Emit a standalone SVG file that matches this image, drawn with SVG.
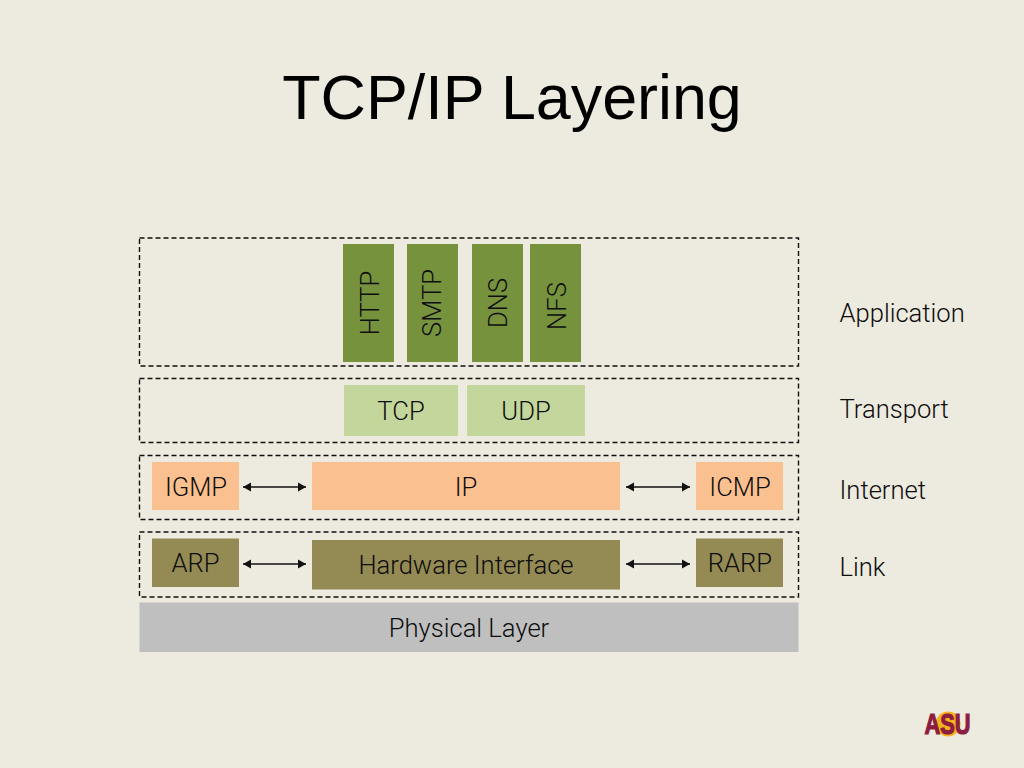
<svg xmlns="http://www.w3.org/2000/svg" width="1024" height="768" viewBox="0 0 1024 768">
<style>
.t{font-family:Roboto,"Liberation Sans",sans-serif;font-weight:300;font-size:25.6px;fill:#0d0d0d;text-anchor:middle}
.l{font-family:Roboto,"Liberation Sans",sans-serif;font-weight:300;font-size:25.6px;fill:#0d0d0d}
.d{fill:none;stroke:#111;stroke-width:1.4;stroke-dasharray:5 3}
.c{fill:none;stroke:#111;stroke-width:1.5;marker-start:url(#a);marker-end:url(#a)}
</style>
<defs>
<marker id="a" markerUnits="userSpaceOnUse" markerWidth="10" markerHeight="10" refX="9" refY="5" orient="auto-start-reverse"><path d="M1 0.500L9 5L1 9.500Z" fill="#111"/></marker>
</defs>
<rect width="1024" height="768" fill="#edeadf"/>
<text id="title" x="512" y="119" font-family="'Liberation Sans',Arial,sans-serif" font-size="62.8" fill="#000" text-anchor="middle">TCP/IP Layering</text>
<g id="layers">
<rect id="layer-application" class="d" x="139.500" y="238" width="659" height="128"/>
<rect id="layer-transport" class="d" x="139.500" y="378.500" width="659" height="64"/>
<rect id="layer-internet" class="d" x="139.500" y="455.500" width="659" height="64"/>
<rect id="layer-link" class="d" x="139.500" y="532" width="659" height="65"/>
</g>
<g id="http"><rect x="343" y="244" width="51" height="118" fill="#76923c"/><text class="t" transform="translate(379 303) rotate(-90)">HTTP</text></g>
<g id="smtp"><rect x="407" y="244" width="51" height="118" fill="#76923c"/><text class="t" transform="translate(441 303) rotate(-90)">SMTP</text></g>
<g id="dns"><rect x="472" y="244" width="51" height="118" fill="#76923c"/><text class="t" transform="translate(506.500 303) rotate(-90)">DNS</text></g>
<g id="nfs"><rect x="530" y="244" width="51" height="118" fill="#76923c"/><text class="t" transform="translate(566 306) rotate(-90)">NFS</text></g>
<g id="tcp"><rect x="344" y="385" width="114" height="51" fill="#c3d69b"/><text class="t" x="401" y="420">TCP</text></g>
<g id="udp"><rect x="467" y="385" width="118" height="51" fill="#c3d69b"/><text class="t" x="526" y="420">UDP</text></g>
<g id="igmp"><rect x="152" y="462" width="87" height="48" fill="#fac090"/><text class="t" x="196" y="496">IGMP</text></g>
<g id="ip"><rect x="312" y="462" width="308" height="48" fill="#fac090"/><text class="t" x="466" y="496">IP</text></g>
<g id="icmp"><rect x="696" y="462" width="87" height="48" fill="#fac090"/><text class="t" x="740" y="496">ICMP</text></g>
<g id="arp"><rect x="152" y="538.500" width="87" height="48.500" fill="#948a54"/><text class="t" x="195.500" y="572">ARP</text></g>
<g id="hw"><rect x="312" y="540" width="308" height="49.500" fill="#948a54"/><text class="t" x="466" y="574">Hardware Interface</text></g>
<g id="rarp"><rect x="696" y="538.500" width="87" height="48.500" fill="#948a54"/><text class="t" x="740" y="572">RARP</text></g>
<g id="physical"><rect x="139.500" y="602.500" width="659" height="49.500" fill="#bfbfbf"/><text class="t" x="469" y="637">Physical Layer</text></g>
<g id="connectors">
<line class="c" x1="243" y1="487" x2="306" y2="487"/>
<line class="c" x1="626" y1="487" x2="690" y2="487"/>
<line class="c" x1="243" y1="564" x2="306" y2="564"/>
<line class="c" x1="626" y1="564" x2="690" y2="564"/>
</g>
<g id="labels">
<text class="l" x="839.500" y="322">Application</text>
<text class="l" x="839.500" y="418">Transport</text>
<text class="l" x="839.500" y="499">Internet</text>
<text class="l" x="839.500" y="576">Link</text>
</g>
<g id="logo">
<circle cx="948" cy="724" r="12.500" fill="#f5b21a"/>
<text x="947.500" y="733.500" font-family="'Liberation Sans',sans-serif" font-weight="700" font-size="29" fill="#8c1d40" stroke="#8c1d40" stroke-width="1.2" text-anchor="middle" textLength="46" lengthAdjust="spacingAndGlyphs">ASU</text>
</g>
</svg>
